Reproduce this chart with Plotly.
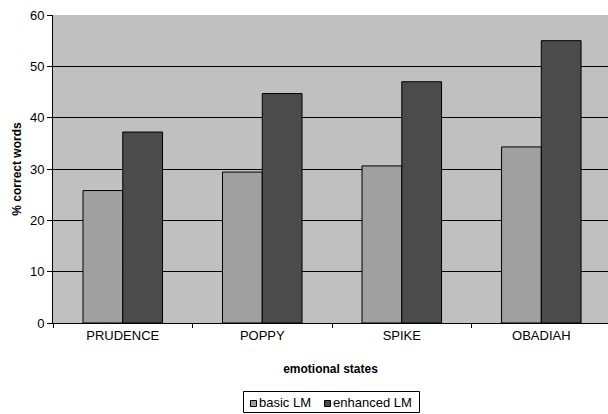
import plotly.graph_objects as go

# emotional states and word accuracy (%) for each language model
states = ["PRUDENCE", "POPPY", "SPIKE", "OBADIAH"]
basic_lm = [25.8, 29.4, 30.6, 34.3]
enhanced_lm = [37.2, 44.7, 47.0, 55.0]
y_ticks = [0, 10, 20, 30, 40, 50, 60]
series_names = ["basic LM", "enhanced LM"]
series_colors = ["#A0A0A0", "#4B4B4B"]

FONT = "Liberation Sans, Arial, sans-serif"
W, H = 608, 414
ML, MR, MT, MB = 53, 0, 15, 91
PW, PH = W - ML - MR, H - MT - MB


def px_x(px):
    """page pixel column -> paper x"""
    return (px - ML) / PW


def px_y(py):
    """page pixel row -> paper y"""
    return (H - MB - py) / PH


fig = go.Figure()
for name, vals, col in zip(series_names, [basic_lm, enhanced_lm], series_colors):
    fig.add_trace(go.Bar(
        name=name, x=states, y=vals,
        marker=dict(color=col, line=dict(color="#000000", width=1)),
        showlegend=False,
    ))

# compact boxed legend with small square swatches
shapes = [dict(
    type="rect", xref="paper", yref="paper",
    x0=px_x(243.5), x1=px_x(419.5), y0=px_y(412.5), y1=px_y(391.5),
    line=dict(color="#000000", width=1), fillcolor="white", layer="above",
)]
annotations = []
swatch_left = [250.5, 324.5]
for left, name, col in zip(swatch_left, series_names, series_colors):
    shapes.append(dict(
        type="rect", xref="paper", yref="paper",
        x0=px_x(left), x1=px_x(left + 6), y0=px_y(406.5), y1=px_y(400.5),
        line=dict(color="#000000", width=1), fillcolor=col, layer="above",
    ))
    annotations.append(dict(
        xref="paper", yref="paper", x=px_x(left + 7), y=px_y(402.5),
        xanchor="left", yanchor="middle", showarrow=False,
        text=name, font=dict(family=FONT, size=13, color="#000000"),
        borderpad=0,
    ))

fig.update_layout(
    width=W, height=H,
    margin=dict(l=ML, r=MR, t=MT, b=MB),
    paper_bgcolor="white",
    plot_bgcolor="#C0C0C0",
    barmode="group",
    bargap=0.43,
    bargroupgap=0,
    font=dict(family=FONT, size=13, color="#000000"),
    showlegend=False,
    shapes=shapes,
    annotations=annotations,
    xaxis=dict(
        range=[-0.5, 3.478],
        tickson="boundaries",
        ticks="outside", ticklen=4, tickcolor="#000000",
        showline=True, linecolor="#000000", linewidth=1,
        showgrid=False,
        tickfont=dict(size=13),
        title=dict(text="<b>emotional states</b>", font=dict(size=12), standoff=23),
    ),
    yaxis=dict(
        range=[0, 60],
        tickvals=y_ticks,
        ticks="outside", ticklen=5, tickcolor="#000000",
        showline=True, linecolor="#000000", linewidth=1,
        showgrid=True, gridcolor="#000000", gridwidth=1,
        zeroline=False,
        tickfont=dict(size=13),
        title=dict(text="<b>% correct words</b>", font=dict(size=12), standoff=5),
    ),
)

fig.write_html("out.html")
